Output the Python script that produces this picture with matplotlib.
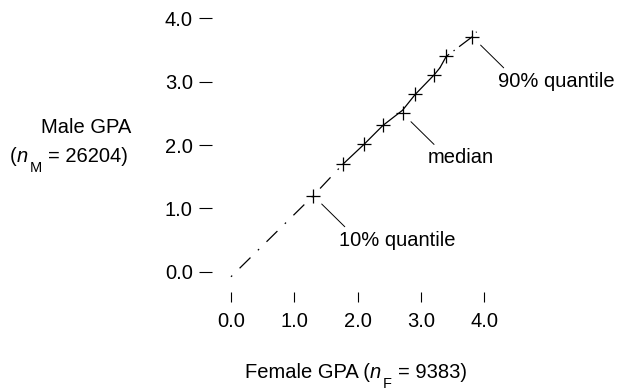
import matplotlib
matplotlib.use("Agg")
import matplotlib.pyplot as plt

plt.rcParams['font.family'] = ['Liberation Sans', 'DejaVu Sans']
plt.rcParams['lines.scale_dashes'] = False

# Quantile points (female GPA, male GPA)
female_q = [1.30, 1.77, 2.10, 2.40, 2.71, 2.91, 3.21, 3.40, 3.81]
male_q = [1.20, 1.70, 2.01, 2.31, 2.50, 2.80, 3.11, 3.40, 3.71]

# Q-Q curve pieces
low_f = [0.0, 1.30, 1.77]
low_m = [-0.08, 1.20, 1.70]
mid_f = [1.77, 2.10, 2.40, 2.71, 2.91, 3.21, 3.30]
mid_m = [1.70, 2.01, 2.31, 2.55, 2.80, 3.11, 3.22]
top_f = [3.30, 3.40, 3.81, 3.88]
top_m = [3.22, 3.40, 3.71, 3.79]

ticks = [0.0, 1.0, 2.0, 3.0, 4.0]
tick_labels = ["0.0", "1.0", "2.0", "3.0", "4.0"]

annotations = [(0, "10% quantile"), (4, "median"), (8, "90% quantile")]

FS = 14.5
W, H = 619, 390
fig = plt.figure(figsize=(W / 100, H / 100), dpi=100)
ax = fig.add_axes([212.3 / W, (H - 291.7) / H, (503.2 - 212.3) / W, (291.7 - 5.8) / H])
ax.set_xlim(-0.295, 4.3)
ax.set_ylim(-0.316, 4.2)

ax.plot(low_f, low_m, color='black', lw=0.9, dashes=(1.2, 7.5, 11, 7.5), solid_capstyle='butt')
ax.plot(mid_f, mid_m, color='black', lw=0.9)
ax.plot(top_f, top_m, color='black', lw=0.9, dashes=(12, 4, 1, 4))
ax.plot(female_q, male_q, linestyle='none', marker='+', markersize=10.5,
        markeredgewidth=0.9, color='black')

for idx, label in annotations:
    p = (female_q[idx], male_q[idx])
    ax.annotate("", xy=p, xycoords='data', xytext=(31.5, -31), textcoords='offset pixels',
                arrowprops=dict(arrowstyle='-', color='black', lw=0.7,
                                shrinkA=0, shrinkB=8.5),
                annotation_clip=False)
    ax.annotate(label, xy=p, xycoords='data', xytext=(25.5, -44.5),
                textcoords='offset pixels', ha='left', va='center',
                fontsize=FS, annotation_clip=False)

for s in ax.spines.values():
    s.set_visible(False)
ax.set_xticks(ticks)
ax.set_xticklabels(tick_labels)
ax.set_yticks(ticks)
ax.set_yticklabels(tick_labels)
ax.tick_params(axis='both', direction='out', width=0.8, labelsize=FS)
ax.tick_params(axis='x', length=7.2, pad=7.5)
ax.tick_params(axis='y', length=9.4, pad=4.7)

fig.text(131.7 / W, 1 - 133.3 / H, "Male GPA", ha='right', va='baseline', fontsize=FS)

renderer = fig.canvas.get_renderer()


def compose(pieces, x_left, y_base):
    """pieces: (text, style, size, drop_px, gap_px)"""
    x = x_left
    for txt, style, size, drop, gap in pieces:
        x += gap
        t = fig.text(x / W, 1 - (y_base + drop) / H, txt, ha='left', va='baseline',
                     fontsize=size, fontstyle=style)
        bb = t.get_window_extent(renderer=renderer)
        x += bb.width


compose([("(", 'normal', FS, 0, 0),
         ("n", 'italic', FS, 0, 0),
         ("M", 'normal', FS * 0.72, 10.6, 1.5),
         ("= 26204)", 'normal', FS, 0, 6)], 10, 161.7)

compose([("Female GPA (", 'normal', FS, 0, 0),
         ("n", 'italic', FS, 0, 0),
         ("F", 'normal', FS * 0.72, 10.6, 1.5),
         ("= 9383)", 'normal', FS, 0, 6)], 245, 377.7)

fig.savefig("out.png", dpi=100)
